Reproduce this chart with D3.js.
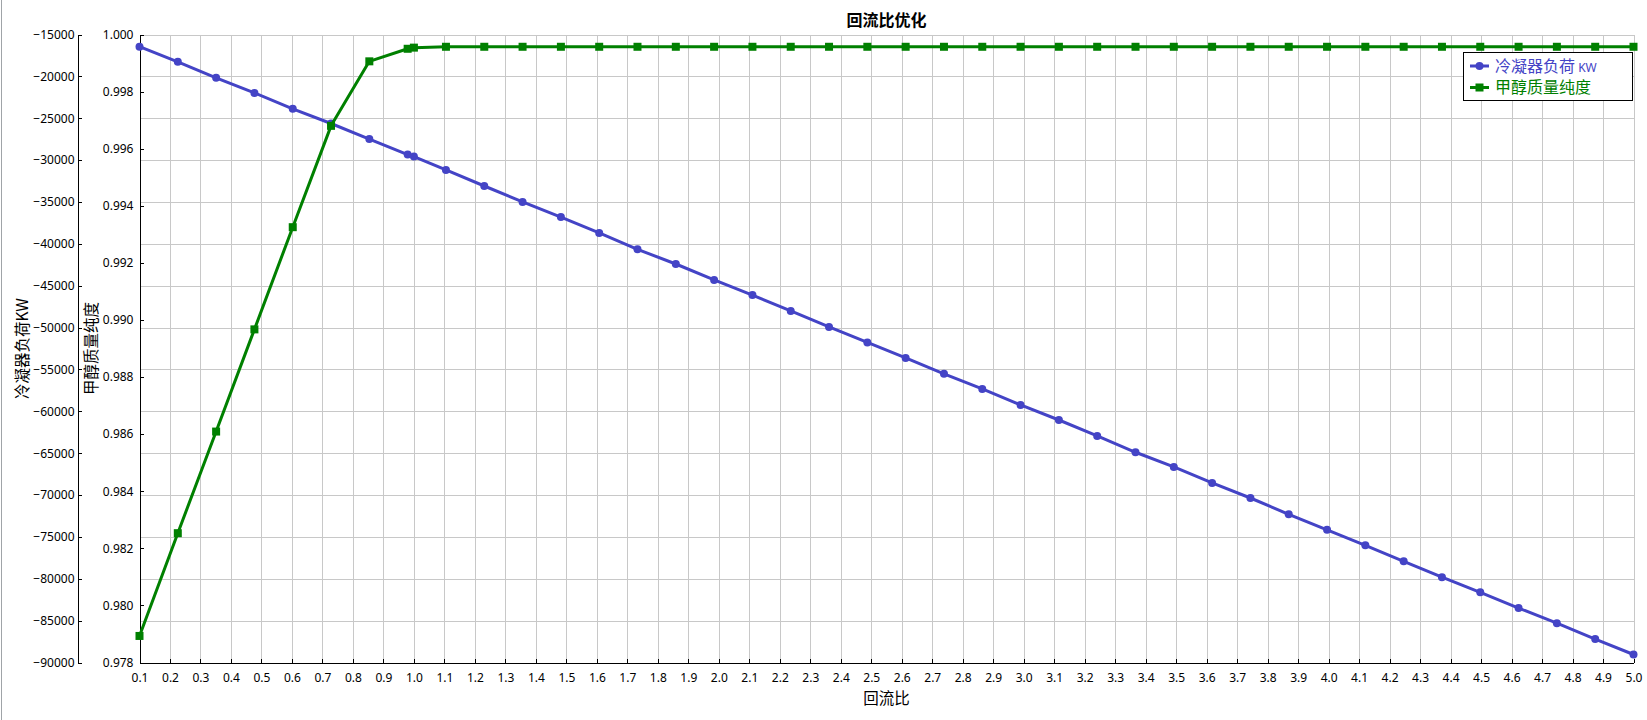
<!DOCTYPE html>
<html>
<head>
<meta charset="utf-8">
<script src="https://cdn.jsdelivr.net/npm/d3@7"></script>
<style>
  html, body { margin: 0; padding: 0; background: #ffffff; }
  svg { display: block; }
  .tick text { font-family: "Segoe UI", "Noto Sans", "Open Sans", sans-serif; font-size: 12px; fill: #000; }
  .cjk { font-family: "Noto Sans CJK SC", "Noto Sans", sans-serif; }
</style>
</head>
<body>
<svg id="chart" width="1647" height="720"></svg>
<script>
// ---------------- data ----------------
const chartTitle = "回流比优化";
const xTitle = "回流比";
const yLeftTitle = "冷凝器负荷KW";
const yRightTitle = "甲醇质量纯度";
const seriesNames = ["冷凝器负荷", "甲醇质量纯度"];
const seriesUnit = " KW";

const refluxRatio = [
  0.1, 0.2256, 0.3513, 0.4769, 0.6026, 0.7282, 0.8538, 0.9795, 1.0, 1.1051,
  1.2308, 1.3564, 1.4821, 1.6077, 1.7333, 1.8590, 1.9846, 2.1103, 2.2359, 2.3615,
  2.4872, 2.6128, 2.7385, 2.8641, 2.9897, 3.1154, 3.2410, 3.3667, 3.4923, 3.6179,
  3.7436, 3.8692, 3.9949, 4.1205, 4.2462, 4.3718, 4.4974, 4.6231, 4.7487, 4.8744, 5.0
];
const condenserDuty = [
  -16450, -18268, -20170, -21974, -23876, -25632, -27485, -29338, -29582, -31170,
  -33094, -34996, -36800, -38702, -40653, -42409, -44311, -46115, -48017, -49919,
  -51773, -53626, -55528, -57332, -59234, -61039, -62941, -64892, -66647, -68549,
  -70354, -72305, -74158, -76011, -77913, -79815, -81620, -83500, -85300, -87200, -89045
];
const methanolPurity = [
  0.97893, 0.98253, 0.98609, 0.98967, 0.99325, 0.99680, 0.99906, 0.99950, 0.99954, 0.99957,
  0.99957, 0.99957, 0.99957, 0.99957, 0.99957, 0.99957, 0.99957, 0.99957, 0.99957, 0.99957,
  0.99957, 0.99957, 0.99957, 0.99957, 0.99957, 0.99957, 0.99957, 0.99957, 0.99957, 0.99957,
  0.99957, 0.99957, 0.99957, 0.99957, 0.99957, 0.99957, 0.99957, 0.99957, 0.99957, 0.99957, 0.99957
];
const xTickValues = [
  0.1, 0.2, 0.3, 0.4, 0.5, 0.6, 0.7, 0.8, 0.9, 1.0,
  1.1, 1.2, 1.3, 1.4, 1.5, 1.6, 1.7, 1.8, 1.9, 2.0,
  2.1, 2.2, 2.3, 2.4, 2.5, 2.6, 2.7, 2.8, 2.9, 3.0,
  3.1, 3.2, 3.3, 3.4, 3.5, 3.6, 3.7, 3.8, 3.9, 4.0,
  4.1, 4.2, 4.3, 4.4, 4.5, 4.6, 4.7, 4.8, 4.9, 5.0
];
const yLeftTickValues = [-90000, -85000, -80000, -75000, -70000, -65000, -60000, -55000,
  -50000, -45000, -40000, -35000, -30000, -25000, -20000, -15000];
const yRightTickValues = [0.978, 0.980, 0.982, 0.984, 0.986, 0.988, 0.990, 0.992, 0.994, 0.996, 0.998, 1.000];

// ---------------- layout ----------------
const blue = "#4444c6";
const green = "#008000";
const gridColor = "#c8c8c8";
const plotL = 139.5, plotR = 1633.5, plotT = 34.5, plotB = 662.5;
const leftAxisX = 77.5;

const svg = d3.select("#chart");

// window border on the left
svg.append("line").attr("x1", 1.5).attr("x2", 1.5).attr("y1", 0).attr("y2", 720)
  .attr("stroke", "#a0a4a8").attr("stroke-width", 1);

const x = d3.scaleLinear().domain([0.1, 5.0]).range([plotL, plotR]);
const yL = d3.scaleLinear().domain([-90000, -15000]).range([plotB, plotT]);
const yR = d3.scaleLinear().domain([0.978, 1.0]).range([plotB, plotT]);

// grid
const grid = svg.append("g").attr("shape-rendering", "crispEdges");
grid.selectAll("line.v").data(xTickValues).join("line")
  .attr("class", "v")
  .attr("x1", d => Math.round(x(d)) + 0.5).attr("x2", d => Math.round(x(d)) + 0.5)
  .attr("y1", plotT).attr("y2", plotB)
  .attr("stroke", gridColor).attr("stroke-width", 1);
grid.selectAll("line.h").data(yLeftTickValues).join("line")
  .attr("class", "h")
  .attr("x1", plotL).attr("x2", plotR)
  .attr("y1", d => Math.round(yL(d)) + 0.5).attr("y2", d => Math.round(yL(d)) + 0.5)
  .attr("stroke", gridColor).attr("stroke-width", 1);

// axes
const axisLeft = svg.append("g").attr("transform", `translate(${leftAxisX},0)`)
  .call(d3.axisLeft(yL).tickValues(yLeftTickValues).tickFormat(d3.format("d"))
    .tickSizeInner(-4).tickSizeOuter(0).tickPadding(3));
const axisRight = svg.append("g").attr("transform", `translate(${plotL},0)`)
  .call(d3.axisLeft(yR).tickValues(yRightTickValues).tickFormat(d3.format(".3f"))
    .tickSizeInner(-4).tickSizeOuter(0).tickPadding(6));
const axisBottom = svg.append("g").attr("transform", `translate(0,${plotB})`)
  .call(d3.axisBottom(x).tickValues(xTickValues).tickFormat(d3.format(".1f"))
    .tickSizeInner(-4).tickSizeOuter(0).tickPadding(11));
[axisLeft, axisRight, axisBottom].forEach(g => {
  g.attr("font-size", null).attr("font-family", null);
  g.selectAll("path.domain").attr("stroke", "#000").attr("shape-rendering", "crispEdges");
  g.selectAll(".tick line").attr("stroke", "#000").attr("shape-rendering", "crispEdges");
});

// series
const pts = refluxRatio.map((r, i) => ({ r, q: condenserDuty[i], p: methanolPurity[i] }));

svg.append("path").datum(pts)
  .attr("fill", "none").attr("stroke", blue).attr("stroke-width", 3).attr("stroke-linejoin", "round")
  .attr("d", d3.line().x(d => x(d.r)).y(d => yL(d.q)));
svg.append("g").selectAll("circle").data(pts).join("circle")
  .attr("cx", d => x(d.r)).attr("cy", d => yL(d.q)).attr("r", 4).attr("fill", blue);

svg.append("path").datum(pts)
  .attr("fill", "none").attr("stroke", green).attr("stroke-width", 3).attr("stroke-linejoin", "round")
  .attr("d", d3.line().x(d => x(d.r)).y(d => yR(d.p)));
svg.append("g").selectAll("rect").data(pts).join("rect")
  .attr("x", d => x(d.r) - 4).attr("y", d => yR(d.p) - 4).attr("width", 8).attr("height", 8)
  .attr("fill", green);

// titles
svg.append("text").attr("class", "cjk")
  .attr("x", (plotL + plotR) / 2).attr("y", 20.5).attr("dy", "0.35em")
  .attr("text-anchor", "middle").attr("font-size", "16px").attr("font-weight", "bold")
  .text(chartTitle);
svg.append("text").attr("class", "cjk")
  .attr("x", (plotL + plotR) / 2).attr("y", 698.5).attr("dy", "0.35em")
  .attr("text-anchor", "middle").attr("font-size", "15.5px")
  .text(xTitle);
svg.append("text").attr("class", "cjk")
  .attr("transform", `translate(23,${(plotT + plotB) / 2}) rotate(-90)`).attr("dy", "0.35em")
  .attr("text-anchor", "middle").attr("font-size", "15.5px")
  .text(yLeftTitle);
svg.append("text").attr("class", "cjk")
  .attr("transform", `translate(92,${(plotT + plotB) / 2}) rotate(-90)`).attr("dy", "0.35em")
  .attr("text-anchor", "middle").attr("font-size", "15.5px")
  .text(yRightTitle);

// legend
const lg = svg.append("g");
lg.append("rect").attr("x", 1463.5).attr("y", 52.5).attr("width", 169).attr("height", 48)
  .attr("fill", "#fff").attr("stroke", "#000").attr("stroke-width", 1).attr("shape-rendering", "crispEdges");
const legendItems = [
  { name: seriesNames[0], unit: seriesUnit, color: blue, shape: "circle", y: 66 },
  { name: seriesNames[1], unit: "", color: green, shape: "square", y: 87.5 }
];
legendItems.forEach(it => {
  lg.append("line").attr("x1", 1470).attr("x2", 1489).attr("y1", it.y).attr("y2", it.y)
    .attr("stroke", it.color).attr("stroke-width", 3);
  if (it.shape === "circle") {
    lg.append("circle").attr("cx", 1479.5).attr("cy", it.y).attr("r", 4).attr("fill", it.color);
  } else {
    lg.append("rect").attr("x", 1475.5).attr("y", it.y - 4).attr("width", 8).attr("height", 8).attr("fill", it.color);
  }
  const t = lg.append("text").attr("class", "cjk").attr("x", 1495).attr("y", it.y).attr("dy", "0.35em")
    .attr("font-size", "16px").attr("fill", it.color).text(it.name);
  if (it.unit) {
    t.append("tspan").attr("font-size", "12px").attr("font-family", "Noto Sans, sans-serif").text(it.unit);
  }
});
</script>
</body>
</html>
